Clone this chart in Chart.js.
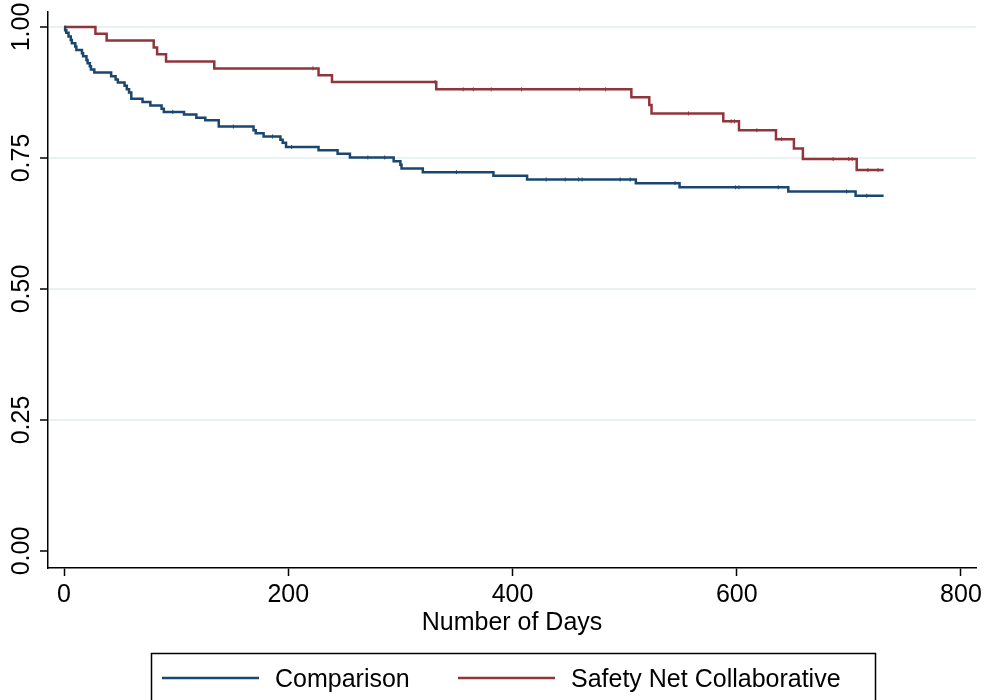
<!DOCTYPE html>
<html>
<head>
<meta charset="utf-8">
<script src="https://cdn.jsdelivr.net/npm/chart.js@4"></script>
<style>
  html, body { margin: 0; padding: 0; background: #fff; }
  #wrap { width: 984px; height: 700px; }
</style>
</head>
<body>
<div id="wrap"><canvas id="km"></canvas></div>
<script>
// Kaplan-Meier steps: day of event, survival after the drop
const comparisonDays = [0, 1, 2, 4, 6, 7, 10, 11, 16, 17, 20, 21, 23, 24, 27, 42, 46, 48, 54, 56, 58, 60, 70, 77, 87, 89, 107, 118, 126, 138, 169, 171, 178, 193, 195, 198, 227, 244, 255, 294, 300, 301, 320, 383, 413, 510, 549, 646, 706, 731];
const comparisonSurv = [1.0, 0.994, 0.989, 0.982, 0.975, 0.969, 0.963, 0.956, 0.950, 0.944, 0.937, 0.931, 0.925, 0.919, 0.913, 0.906, 0.900, 0.894, 0.888, 0.881, 0.875, 0.863, 0.857, 0.850, 0.844, 0.838, 0.833, 0.827, 0.822, 0.810, 0.803, 0.797, 0.791, 0.785, 0.779, 0.771, 0.765, 0.758, 0.751, 0.744, 0.737, 0.730, 0.723, 0.716, 0.709, 0.702, 0.694, 0.686, 0.678, 0.678];

const safetyDays = [0, 28, 38, 80, 83, 91, 134, 227, 239, 332, 506, 522, 524, 588, 602, 635, 651, 659, 707, 731];
const safetySurv = [1.0, 0.987, 0.974, 0.961, 0.948, 0.934, 0.921, 0.908, 0.895, 0.881, 0.866, 0.851, 0.835, 0.820, 0.803, 0.786, 0.768, 0.748, 0.727, 0.727];

// censoring times (tick marks on the curves)
const comparisonCensored = [97, 151, 186, 203, 271, 286, 350, 430, 447, 459, 462, 496, 505, 545, 599, 602, 637, 698, 716];
const safetyCensored = [222, 331, 356, 365, 381, 408, 460, 483, 557, 595, 598, 618, 640, 686, 700, 703, 717, 726];

const seriesLabels = ['Comparison', 'Safety Net Collaborative'];
const seriesColors = ['#1a476f', '#90353b'];
const xTicks = [0, 200, 400, 600, 800];
const yTicks = [0, 0.25, 0.5, 0.75, 1];

const FONT = 'Liberation Sans, Arial, sans-serif';

// survival value in force at a given day
function survAt(days, surv, t) {
    let s = surv[0];
    for (let i = 0; i < days.length; i++) {
        if (days[i] <= t) s = surv[i];
    }
    return s;
}

function stepPoints(days, surv) {
    return days.map((d, i) => ({ x: d, y: surv[i] }));
}

function censorPoints(days, surv, cens) {
    return cens.map(t => ({ x: t, y: survAt(days, surv, t) }));
}

// rotated y labels, Stata style
const yLabelPlugin = {
    id: 'yLabels',
    afterDraw(chart) {
        const ctx = chart.ctx;
        const y = chart.scales.y;
        ctx.save();
        ctx.fillStyle = '#000';
        ctx.font = '25px ' + FONT;
        ctx.textAlign = 'center';
        ctx.textBaseline = 'alphabetic';
        yTicks.forEach(v => {
            ctx.save();
            ctx.translate(29, y.getPixelForValue(v));
            ctx.rotate(-Math.PI / 2);
            ctx.fillText(v.toFixed(2), 0, 0);
            ctx.restore();
        });
        ctx.restore();
    }
};

// legend box under the plot
const legendBoxPlugin = {
    id: 'legendBox',
    afterDraw(chart) {
        const ctx = chart.ctx;
        ctx.save();
        ctx.fillStyle = '#fff';
        ctx.fillRect(151.5, 653.5, 724, 60);
        ctx.strokeStyle = '#000';
        ctx.lineWidth = 1.5;
        ctx.strokeRect(151.5, 653.5, 724, 60);

        const items = [
            { x0: 162, x1: 259, tx: 275 },
            { x0: 458, x1: 555, tx: 571 }
        ];
        ctx.font = '25px ' + FONT;
        ctx.textBaseline = 'alphabetic';
        ctx.textAlign = 'left';
        items.forEach((it, i) => {
            ctx.strokeStyle = seriesColors[i];
            ctx.lineWidth = 2.5;
            ctx.beginPath();
            ctx.moveTo(it.x0, 678);
            ctx.lineTo(it.x1, 678);
            ctx.stroke();
            ctx.fillStyle = '#000';
            ctx.fillText(seriesLabels[i], it.tx, 687);
        });
        ctx.restore();
    }
};

const ctx = document.getElementById('km');

new Chart(ctx, {
    type: 'scatter',
    data: {
        datasets: [
            {
                label: seriesLabels[0],
                data: stepPoints(comparisonDays, comparisonSurv),
                showLine: true,
                stepped: true,
                borderColor: seriesColors[0],
                borderWidth: 2.5,
                pointRadius: 0
            },
            {
                label: seriesLabels[1],
                data: stepPoints(safetyDays, safetySurv),
                showLine: true,
                stepped: true,
                borderColor: seriesColors[1],
                borderWidth: 2.5,
                pointRadius: 0
            },
            {
                label: 'censored 1',
                data: censorPoints(comparisonDays, comparisonSurv, comparisonCensored),
                showLine: false,
                pointStyle: 'line',
                rotation: 90,
                pointRadius: 2,
                borderColor: seriesColors[0],
                borderWidth: 1
            },
            {
                label: 'censored 2',
                data: censorPoints(safetyDays, safetySurv, safetyCensored),
                showLine: false,
                pointStyle: 'line',
                rotation: 90,
                pointRadius: 2,
                borderColor: seriesColors[1],
                borderWidth: 1
            }
        ]
    },
    options: {
        responsive: true,
        maintainAspectRatio: false,
        animation: false,
        layout: { padding: { left: 40, top: 12, right: 8, bottom: 47 } },
        plugins: {
            legend: { display: false },
            tooltip: { enabled: false }
        },
        scales: {
            x: {
                type: 'linear',
                min: -14.3,
                max: 813.4,
                afterBuildTicks: s => { s.ticks = xTicks.map(v => ({ value: v })); },
                afterFit: s => { s.height = 85; s.paddingLeft = 0; s.paddingRight = 0; },
                grid: { drawOnChartArea: false, drawTicks: true, tickLength: 8, tickColor: '#000', tickWidth: 1.5 },
                border: { color: '#000', width: 1.5 },
                ticks: { color: '#000', font: { size: 25, family: FONT }, padding: 4, maxRotation: 0 },
                title: {
                    display: true,
                    text: 'Number of Days',
                    color: '#000',
                    font: { size: 25, family: FONT },
                    padding: { top: 0, bottom: 15 }
                }
            },
            y: {
                type: 'linear',
                min: -0.0324,
                max: 1.0286,
                afterBuildTicks: s => { s.ticks = yTicks.map(v => ({ value: v })); },
                grid: {
                    color: c => (c.tick && c.tick.value === 0) ? 'rgba(0,0,0,0)' : '#eaf2f3',
                    lineWidth: 2,
                    tickLength: 8,
                    tickColor: '#000',
                    tickWidth: 1.5
                },
                border: { color: '#000', width: 1.5 },
                ticks: { display: false }
            }
        }
    },
    plugins: [yLabelPlugin, legendBoxPlugin]
});
</script>
</body>
</html>
